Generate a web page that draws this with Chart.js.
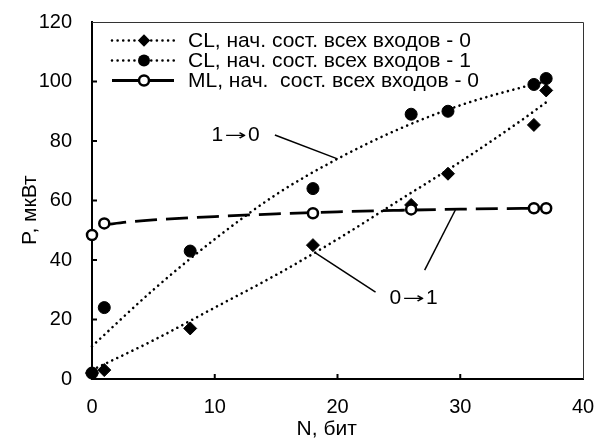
<!DOCTYPE html>
<html><head><meta charset="utf-8">
<script src="https://cdn.jsdelivr.net/npm/chart.js@4"></script>
<style>html,body{margin:0;padding:0;background:#fff}#wrap{width:596px;height:439px}</style>
</head><body><div id="wrap"><canvas id="c" width="596" height="439"></canvas></div>
<script>
const seriesNames = ['CL, нач. сост. всех входов - 0', 'CL, нач. сост. всех входов - 1', 'ML, нач.  сост. всех входов - 0'];
const xCL = [0, 1, 8, 18, 26, 29, 36, 37];
const cl0 = [2, 3, 17, 45, 58.5, 69, 85.4, 97];
const cl1 = [2, 24, 43, 64, 89, 90, 99, 101];
const xML = [0, 1, 18, 26, 36, 37];
const ml0 = [48.4, 52.3, 55.7, 57, 57.4, 57.4];
// trend curves
const trendX = [0, 5, 10, 15, 20, 25, 30, 35, 37];
const trendCL0 = [3, 13, 24, 35, 47, 60, 73, 87, 93];
const trendCL1 = [11, 30, 47, 62, 74, 84, 92, 98, 100];
const trendXML = [1, 3, 5, 10, 15, 20, 25, 30, 37];
const trendML0 = [51.8, 52.8, 53.5, 54.6, 55.5, 56.2, 56.7, 57.1, 57.4];
const xTicks = [0, 10, 20, 30, 40];
const yTicks = [0, 20, 40, 60, 80, 100, 120];
const xTitle = 'N, бит';
const yTitle = 'P, мкВт';
const annText = [['1', '→', '0'], ['0', '→', '1']];
const annTextPos = [[11.7, 82], [26.2, 27.2]];
const annLines = [[[14.9, 82], [20.0, 74]], [[18.2, 42.4], [23.1, 29.2]], [[27.1, 36.6], [29.6, 56.8]]];

const FONT = '"Liberation Sans", Arial, sans-serif';
const ARROWFONT = '"DejaVu Sans", sans-serif';
const pts = (xs, ys) => xs.map((x, i) => ({x, y: ys[i]}));

const dotted = {borderDash: [0.01, 5.6], borderCapStyle: 'round', borderWidth: 2.6};
const dashed = {borderDash: [22, 9], borderCapStyle: 'butt', borderWidth: 2.8};

function drawArrowText(ctx, parts, cx, cy) {
  const f1 = '21px ' + FONT, f2 = '15px ' + ARROWFONT;
  const sx = 1.75;
  ctx.font = f1; const w0 = ctx.measureText(parts[0]).width, w2 = ctx.measureText(parts[2]).width;
  ctx.font = f2; const w1 = ctx.measureText(parts[1]).width * sx;
  const gap = 1.5;
  let xx = cx - (w0 + w1 + w2 + 2 * gap) / 2;
  ctx.textAlign = 'left';
  ctx.font = f1; ctx.fillText(parts[0], xx, cy); xx += w0 + gap;
  ctx.save(); ctx.translate(xx, cy + 1); ctx.scale(sx, 1);
  ctx.font = f2; ctx.fillText(parts[1], 0, 0); ctx.restore(); xx += w1 + gap;
  ctx.font = f1; ctx.fillText(parts[2], xx, cy);
}

const overlay = {
  id: 'overlay',
  beforeDatasetsDraw(chart) {
    const {ctx, chartArea: a, scales: {x, y}} = chart;
    ctx.save();
    ctx.strokeStyle = '#333';
    ctx.lineWidth = 1;
    ctx.beginPath();
    ctx.moveTo(a.left, a.top + 0.5); ctx.lineTo(a.right + 0.5, a.top + 0.5); ctx.lineTo(a.right + 0.5, a.bottom);
    ctx.stroke();
    ctx.strokeStyle = '#000';
    ctx.lineWidth = 2;
    ctx.beginPath();
    xTicks.forEach(v => { const px = x.getPixelForValue(v); if (v > xTicks[0] && v < xTicks[xTicks.length - 1]) { ctx.moveTo(px, a.bottom); ctx.lineTo(px, a.bottom - 5); } });
    yTicks.forEach(v => { const py = y.getPixelForValue(v); if (v > yTicks[0] && v < yTicks[yTicks.length - 1]) { ctx.moveTo(a.left, py); ctx.lineTo(a.left + 5, py); } });
    ctx.stroke();
    // annotation leader lines
    ctx.lineWidth = 1.5;
    annLines.forEach(l => {
      ctx.beginPath();
      ctx.moveTo(x.getPixelForValue(l[0][0]), y.getPixelForValue(l[0][1]));
      ctx.lineTo(x.getPixelForValue(l[1][0]), y.getPixelForValue(l[1][1]));
      ctx.stroke();
    });
    ctx.fillStyle = '#000';
    ctx.textBaseline = 'middle';
    annText.forEach((t, i) => drawArrowText(ctx, t, x.getPixelForValue(annTextPos[i][0]), y.getPixelForValue(annTextPos[i][1])));
    ctx.restore();
  },
  afterDraw(chart) {
    const {ctx, chartArea: a} = chart;
    ctx.save();
    ctx.fillStyle = '#000';
    ctx.font = '21px ' + FONT;
    ctx.textAlign = 'center';
    ctx.textBaseline = 'middle';
    ctx.fillText(xTitle, a.left + (a.right - a.left) * 0.478, a.bottom + 50);
    ctx.save();
    ctx.translate(30, a.top + (a.bottom - a.top) * 0.527);
    ctx.rotate(-Math.PI / 2);
    ctx.fillText(yTitle, 0, 0);
    ctx.restore();
    // legend
    const rows = [a.top + 18.5, a.top + 38.5, a.top + 58.5];
    const x0 = a.left + 20, x1 = a.left + 82, xm = a.left + 52, xt = a.left + 96;
    ctx.textAlign = 'left';
    ctx.font = '21px ' + FONT;
    rows.forEach((ry, i) => {
      ctx.strokeStyle = '#000';
      ctx.lineWidth = 2.6;
      if (i < 2) { ctx.setLineDash([0.01, 5.6]); ctx.lineCap = 'round'; }
      else { ctx.setLineDash([]); ctx.lineCap = 'butt'; ctx.lineWidth = 2.8; }
      ctx.beginPath(); ctx.moveTo(x0, ry); ctx.lineTo(x1, ry); ctx.stroke();
      ctx.setLineDash([]);
      ctx.beginPath();
      if (i === 0) {
        const r = 6.2;
        ctx.moveTo(xm, ry - r); ctx.lineTo(xm + r, ry); ctx.lineTo(xm, ry + r); ctx.lineTo(xm - r, ry); ctx.closePath();
        ctx.fillStyle = '#000'; ctx.fill();
      } else if (i === 1) {
        ctx.arc(xm, ry, 6, 0, Math.PI * 2); ctx.fillStyle = '#000'; ctx.fill();
      } else {
        ctx.arc(xm, ry, 5, 0, Math.PI * 2); ctx.fillStyle = '#fff'; ctx.fill(); ctx.lineWidth = 2.5; ctx.stroke();
      }
      ctx.fillStyle = '#000';
      ctx.fillText(seriesNames[i], xt, ry + 1);
    });
    ctx.restore();
  }
};

new Chart(document.getElementById('c'), {
  type: 'scatter',
  data: {
    datasets: [
      {label: seriesNames[0], data: pts(xCL, cl0), showLine: false, pointStyle: 'rectRot', pointRadius: 6.5, pointBackgroundColor: '#000', pointBorderColor: '#000', pointBorderWidth: 1, clip: false, order: 1},
      {label: seriesNames[1], data: pts(xCL, cl1), showLine: false, pointStyle: 'circle', pointRadius: 6, pointBackgroundColor: '#000', pointBorderColor: '#000', pointBorderWidth: 1, clip: false, order: 1},
      {label: seriesNames[2], data: pts(xML, ml0), showLine: false, pointStyle: 'circle', pointRadius: 5, pointBackgroundColor: '#fff', pointBorderColor: '#000', pointBorderWidth: 2.5, clip: false, order: 0},
      Object.assign({label: 'trend0', data: pts(trendX, trendCL0), showLine: true, pointRadius: 0, borderColor: '#000', cubicInterpolationMode: 'monotone', clip: false, order: 5}, dotted),
      Object.assign({label: 'trend1', data: pts(trendX, trendCL1), showLine: true, pointRadius: 0, borderColor: '#000', cubicInterpolationMode: 'monotone', clip: false, order: 5}, dotted),
      Object.assign({label: 'trend2', data: pts(trendXML, trendML0), showLine: true, pointRadius: 0, borderColor: '#000', cubicInterpolationMode: 'monotone', clip: false, order: 5}, dashed)
    ]
  },
  options: {
    responsive: false,
    devicePixelRatio: 1,
    animation: false,
    layout: {padding: {top: 22, right: 13, left: 0, bottom: 0}},
    plugins: {legend: {display: false}, tooltip: {enabled: false}},
    scales: {
      x: {
        type: 'linear', min: 0, max: 40,
        afterFit: s => { s.height = 60; s.paddingLeft = 0; s.paddingRight = 0; },
        afterBuildTicks: s => { s.ticks = xTicks.map(v => ({value: v})); },
        grid: {display: false, drawTicks: false},
        border: {display: true, color: '#000', width: 2},
        ticks: {color: '#000', font: {family: FONT, size: 20}, padding: 16, maxRotation: 0}
      },
      y: {
        type: 'linear', min: 0, max: 120,
        afterFit: s => { s.width = 92; s.paddingTop = 0; s.paddingBottom = 0; },
        afterBuildTicks: s => { s.ticks = yTicks.map(v => ({value: v})); },
        grid: {display: false, drawTicks: false},
        border: {display: true, color: '#000', width: 2},
        ticks: {color: '#000', font: {family: FONT, size: 20}, padding: 20}
      }
    }
  },
  plugins: [overlay]
});
</script>
</body></html>
